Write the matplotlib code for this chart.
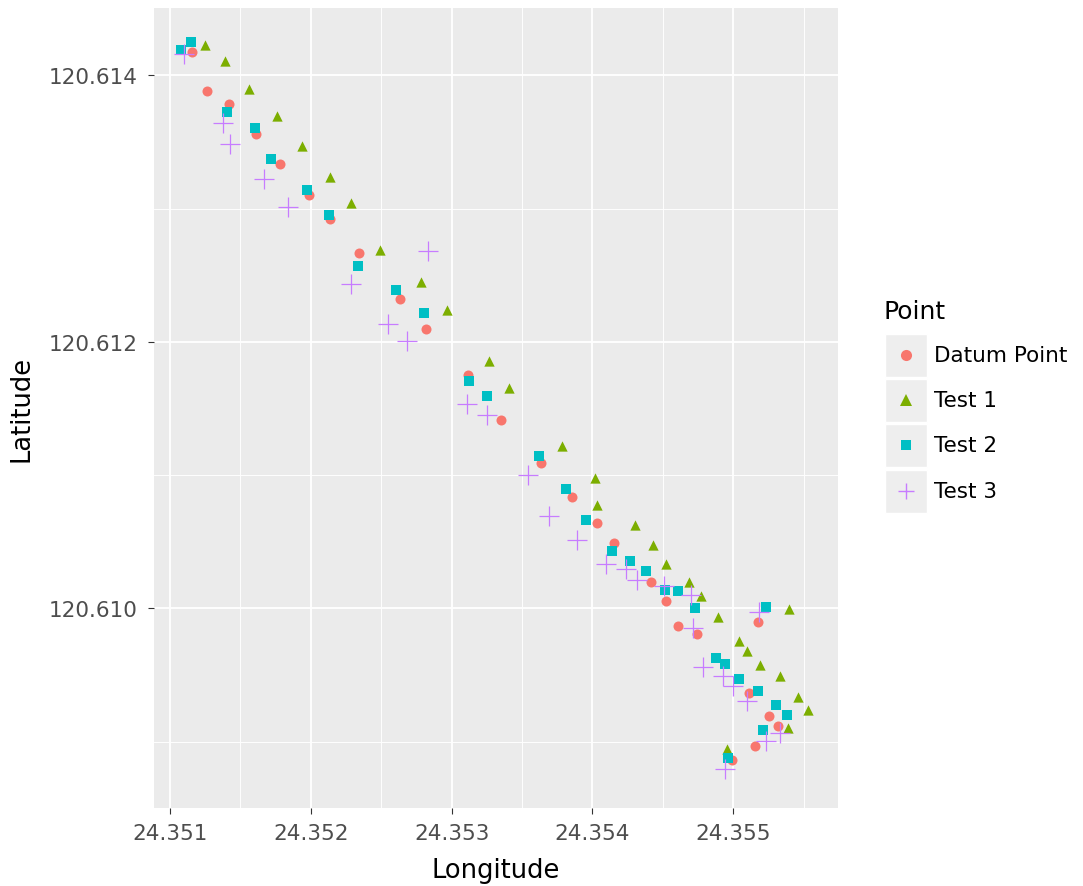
import numpy as np
import matplotlib
matplotlib.use("Agg")
import matplotlib.pyplot as plt
from matplotlib.lines import Line2D
from matplotlib.patches import Rectangle
from matplotlib.ticker import MultipleLocator, FormatStrFormatter

plt.rcParams["font.family"] = ["DejaVu Sans"]

# GPS fixes along the route (longitude, latitude) for the reference and three trials
datum_lon = [24.351156, 24.351265, 24.351421, 24.351611, 24.351781, 24.351987,
             24.352138, 24.352342, 24.352631, 24.352816, 24.353119, 24.353349,
             24.353638, 24.353855, 24.354029, 24.354155, 24.354413, 24.354523,
             24.354610, 24.354743, 24.355174, 24.355112, 24.355252, 24.355318,
             24.355158, 24.354991]
datum_lat = [120.614176, 120.613880, 120.613788, 120.613557, 120.613332, 120.613099,
             120.612919, 120.612669, 120.612323, 120.612098, 120.611748, 120.611415,
             120.611092, 120.610835, 120.610642, 120.610494, 120.610196, 120.610058,
             120.609865, 120.609805, 120.609896, 120.609362, 120.609196, 120.609120,
             120.608970, 120.608862]

test1_lon = [24.351246, 24.351391, 24.351563, 24.351758, 24.351935, 24.352136,
             24.352285, 24.352491, 24.352783, 24.352965, 24.353266, 24.353408,
             24.353784, 24.354015, 24.354029, 24.354302, 24.354427, 24.354521,
             24.354684, 24.354768, 24.354891, 24.355394, 24.355039, 24.355098,
             24.355190, 24.355334, 24.355462, 24.355528, 24.355386, 24.354958]
test1_lat = [120.614229, 120.614108, 120.613895, 120.613695, 120.613467, 120.613237,
             120.613044, 120.612691, 120.612449, 120.612236, 120.611856, 120.611655,
             120.611216, 120.610976, 120.610777, 120.610627, 120.610478, 120.610334,
             120.610196, 120.610090, 120.609936, 120.609996, 120.609756, 120.609681,
             120.609573, 120.609495, 120.609333, 120.609236, 120.609102, 120.608945]

test2_lon = [24.351075, 24.351146, 24.351403, 24.351604, 24.351715, 24.351971,
             24.352129, 24.352337, 24.352603, 24.352804, 24.353126, 24.353249,
             24.353623, 24.353815, 24.353954, 24.354141, 24.354269, 24.354377,
             24.354512, 24.354606, 24.354729, 24.355233, 24.354874, 24.354940,
             24.355042, 24.355176, 24.355304, 24.355380, 24.355214, 24.354961]
test2_lat = [120.614188, 120.614249, 120.613725, 120.613607, 120.613375, 120.613137,
             120.612949, 120.612573, 120.612391, 120.612216, 120.611706, 120.611597,
             120.611142, 120.610897, 120.610666, 120.610429, 120.610356, 120.610281,
             120.610139, 120.610131, 120.610001, 120.610012, 120.609626, 120.609583,
             120.609467, 120.609378, 120.609274, 120.609199, 120.609090, 120.608879]

test3_lon = [24.351102, 24.351379, 24.351426, 24.351668, 24.351840, 24.352283,
             24.352546, 24.352685, 24.352830, 24.353107, 24.353251, 24.353539,
             24.353693, 24.353888, 24.354099, 24.354239, 24.354317, 24.354508,
             24.354697, 24.354712, 24.355185, 24.354788, 24.354924, 24.354998,
             24.355098, 24.355330, 24.355233, 24.354938]
test3_lat = [120.614163, 120.613643, 120.613482, 120.613224, 120.613012, 120.612436,
             120.612131, 120.612006, 120.612682, 120.611533, 120.611450, 120.611002,
             120.610694, 120.610514, 120.610336, 120.610296, 120.610215, 120.610169,
             120.610101, 120.609850, 120.609970, 120.609558, 120.609493, 120.609418,
             120.609307, 120.609063, 120.609003, 120.608795]

labels = ["Datum Point", "Test 1", "Test 2", "Test 3"]
colors = ["#F8766D", "#7CAE00", "#00BFC4", "#C77CFF"]

W, H = 1083, 887
fig = plt.figure(figsize=(W / 100, H / 100), dpi=100)
ax = fig.add_axes([154 / W, 1 - 809 / H, (838 - 154) / W, (809 - 9) / H])
ax.set_facecolor("#EBEBEB")

ax.scatter(datum_lon, datum_lat, marker="o", s=52, color=colors[0], linewidths=0, zorder=3)
ax.scatter(test1_lon, test1_lat, marker="^", s=55, color=colors[1], linewidths=0, zorder=3)
ax.scatter(test2_lon, test2_lat, marker="s", s=48, color=colors[2], linewidths=0, zorder=3)
ax.scatter(test3_lon, test3_lat, marker="+", s=190, color=colors[3], linewidths=0.9, zorder=3)

ax.set_xlim(24.350886, 24.355744)
ax.set_ylim(120.608502, 120.614506)

ax.xaxis.set_major_locator(MultipleLocator(0.001))
ax.xaxis.set_minor_locator(MultipleLocator(0.0005))
ax.yaxis.set_major_locator(MultipleLocator(0.002))
ax.yaxis.set_minor_locator(MultipleLocator(0.001))
ax.xaxis.set_major_formatter(FormatStrFormatter("%.3f"))
ax.yaxis.set_major_formatter(FormatStrFormatter("%.3f"))

ax.grid(which="major", color="white", linewidth=1.3, zorder=0)
ax.grid(which="minor", color="white", linewidth=0.65, zorder=0)
ax.set_axisbelow(True)
for sp in ax.spines.values():
    sp.set_visible(False)

ax.tick_params(which="major", length=4, width=0.8, color="#333333",
               labelcolor="#4D4D4D", labelsize=15.5)
ax.tick_params(axis="x", which="major", pad=7)
ax.tick_params(axis="y", which="major", pad=8)
ax.tick_params(which="minor", length=0)

ax.set_xlabel("Longitude", fontsize=18.5, color="black", labelpad=10)
ax.set_ylabel("Latitude", fontsize=18.5, color="black", labelpad=10)


def fx(px):
    return px / W


def fy(py):
    return 1 - py / H


# legend drawn by hand: grey key boxes with a marker, label on the right
fig.text(fx(884), fy(312), "Point", fontsize=18, ha="left", va="center")
markers = [("o", 8, 0), ("^", 8, 0), ("s", 7, 0), ("+", 12, 1.0)]
rows = [356, 401, 446, 492]
for (mk, ms, lw), col, lab, cy in zip(markers, colors, labels, rows):
    fig.add_artist(Rectangle((fx(885), fy(cy + 21.5)), 42 / W, 43 / H,
                             transform=fig.transFigure, facecolor="#EEEEEE",
                             edgecolor="white", linewidth=1))
    fig.add_artist(Line2D([fx(906)], [fy(cy)], transform=fig.transFigure,
                          marker=mk, markersize=ms, color=col, linestyle="none",
                          markeredgewidth=lw))
    fig.text(fx(934), fy(cy), lab, fontsize=15.5, ha="left", va="center", color="black")

fig.savefig("out.png", dpi=100)
